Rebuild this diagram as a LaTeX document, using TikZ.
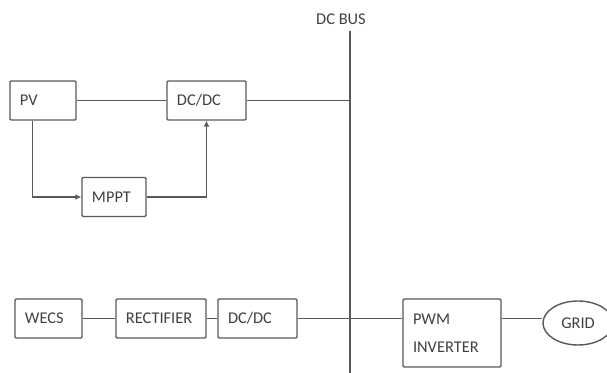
\documentclass[tikz,border=0pt]{standalone}
\usepackage{fontspec}
\setmainfont{Carlito}
\usetikzlibrary{arrows.meta,shapes.geometric}
\tikzset{
  wire/.style={line width=1.2pt, draw=black!65},
  lbl/.style={text=black!75, font=\fontsize{14}{16.8}\selectfont},
  blk/.style={wire, lbl, rounded corners=1pt, align=left, inner xsep=0.3cm,
    text width=#1, minimum height=1.17cm},
  arr/.style={wire, -{Latex[length=5pt,width=5pt]}}
}
\begin{document}
\begin{tikzpicture}[x=0.03cm, y=-0.03cm]
    \useasboundingbox (0,0) rectangle (607,373);
    % DC bus
    \coordinate (busT) at (350,31);
    \coordinate (busB) at (350,373);
    \draw[wire] (busT) -- (busB);
    \node[lbl] (buslbl) at (341,19) {DC BUS};
    % PV branch
    \node[blk=1.38cm] (pv) at (43,100.5) {PV};
    \node[blk=1.77cm] (dcdcA) at (206.5,100.5) {DC/DC};
    \node[blk=1.32cm] (mppt) at (114,197) {MPPT};
    \draw[wire] (pv.east) -- (dcdcA.west);
    \draw[wire] (dcdcA.east) -- (dcdcA.east -| busT);
    \draw[arr] ([xshift=0.69cm]pv.south west) |- (mppt.west);
    \draw[arr] (mppt.east) -| (dcdcA.south);
    % wind branch
    \node[blk=1.41cm] (wecs) at (48.5,318.5) {WECS};
    \node[blk=2.1cm] (rect) at (161,318.5) {RECTIFIER};
    \node[blk=1.77cm] (dcdcB) at (257.5,318.5) {DC/DC};
    \draw[wire] (wecs.east) -- (rect.west);
    \draw[wire] (rect.east) -- (dcdcB.west);
    % inverter and grid
    \node[blk=2.34cm, minimum height=2.04cm] (pwm) at (452,333) {PWM\\[7pt]INVERTER};
    \node[wire, lbl, ellipse, minimum width=2.1cm, minimum height=1.32cm,
      inner sep=0pt] (grid) at (578,323) {GRID};
    \draw[wire] (dcdcB.east) -- (dcdcB.east -| pwm.west);
    \draw[wire] (dcdcB.east -| pwm.east) -- (grid.west |- dcdcB.east);
\end{tikzpicture}
\end{document}
